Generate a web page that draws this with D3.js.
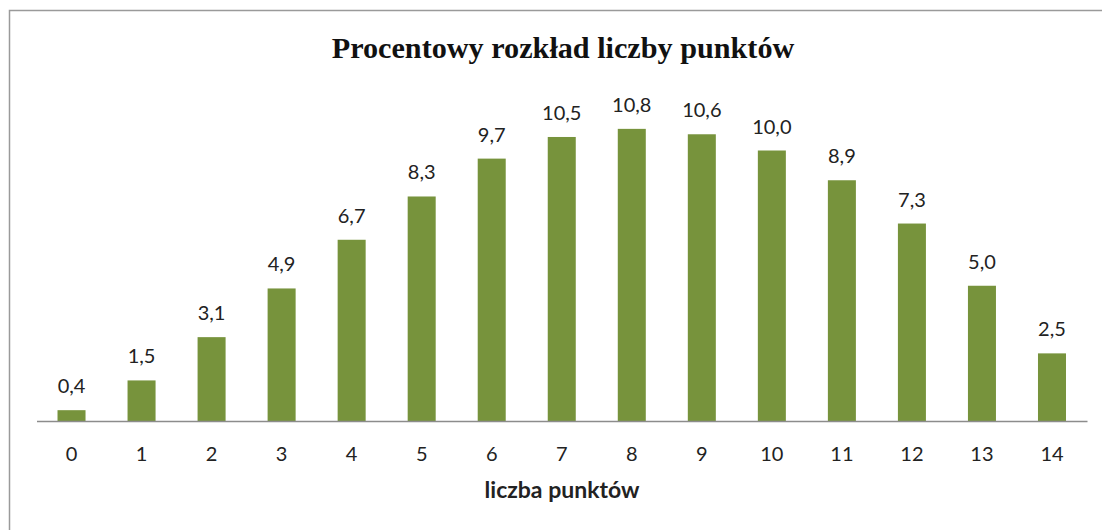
<!DOCTYPE html>
<html><head><meta charset="utf-8">
<script src="https://cdn.jsdelivr.net/npm/d3@7/dist/d3.min.js"></script>
<style>html,body{margin:0;padding:0;background:#fff;}svg{display:block;}</style>
</head><body>
<script>
const categories = ["0","1","2","3","4","5","6","7","8","9","10","11","12","13","14"];
const values = [0.4,1.5,3.1,4.9,6.7,8.3,9.7,10.5,10.8,10.6,10.0,8.9,7.3,5.0,2.5];
const labels = ["0,4","1,5","3,1","4,9","6,7","8,3","9,7","10,5","10,8","10,6","10,0","8,9","7,3","5,0","2,5"];
const title = "Procentowy rozkład liczby punktów";
const xTitle = "liczba punktów";

const W = 1102, H = 530;
const svg = d3.select("body").append("svg").attr("width", W).attr("height", H);

// frame
svg.append("rect").attr("x", 9.5).attr("y", 10.5).attr("width", 1200).attr("height", 600)
  .attr("fill", "none").attr("stroke", "#9a9a9a").attr("stroke-width", 1.5);

const x = d3.scaleBand().domain(categories).range([36.5, 1087]).paddingInner(0.6).paddingOuter(0.3);
const y = d3.scaleLinear().domain([0, 12]).range([421, 421 - 12 * 27.05]);

const FONT = "Lato, 'Open Sans', sans-serif";

svg.append("text").attr("x", 563).attr("y", 58).attr("text-anchor", "middle")
  .attr("font-family", "'Liberation Serif', 'Times New Roman', serif").attr("font-weight", "bold")
  .attr("font-size", 30.2).attr("fill", "#111").text(title);

svg.selectAll("rect.bar").data(values).join("rect").attr("class", "bar")
  .attr("x", (d, i) => x(categories[i])).attr("width", x.bandwidth())
  .attr("y", d => y(d)).attr("height", d => y(0) - y(d)).attr("fill", "#77933c");

svg.selectAll("text.lbl").data(values).join("text").attr("class", "lbl")
  .attr("x", (d, i) => x(categories[i]) + x.bandwidth() / 2).attr("y", d => y(d) - 17)
  .attr("text-anchor", "middle").attr("font-family", FONT)
  .attr("font-size", 20).attr("fill", "#222").text((d, i) => labels[i]);

const ax = svg.append("g").attr("transform", "translate(0,421)")
  .call(d3.axisBottom(x).tickSize(0).tickPadding(0).tickSizeOuter(0));
ax.select(".domain").attr("stroke", "#8c8c8c").attr("stroke-width", 1.5);
ax.selectAll("text").attr("dy", null).attr("y", 40).attr("font-family", FONT).attr("font-size", 20).attr("fill", "#222");

svg.append("text").attr("x", 562).attr("y", 498).attr("text-anchor", "middle")
  .attr("font-family", FONT).attr("font-weight", "bold")
  .attr("font-size", 23).attr("fill", "#222").text(xTitle);
</script>
</body></html>
